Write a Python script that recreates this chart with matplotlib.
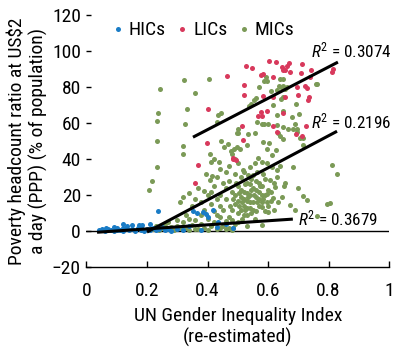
import matplotlib
matplotlib.use("Agg")
import matplotlib.pyplot as plt
import numpy as np

plt.rcParams['font.family'] = ['Roboto Condensed', 'DejaVu Sans']
plt.rcParams['mathtext.fontset'] = 'custom'
plt.rcParams['mathtext.rm'] = 'Roboto Condensed'
plt.rcParams['mathtext.it'] = 'Roboto Condensed:italic'

# HICs (blue)
hic = [(0.04, 0.5), (0.05, 1.0), (0.06, 0.3), (0.07, 1.2), (0.08, 0.6), (0.09, 0.2), (0.10, 1.5),
       (0.10, 0.4), (0.11, 0.8), (0.12, 2.0), (0.12, 0.3), (0.13, 1.1), (0.14, 0.5), (0.15, 3.5),
       (0.15, 1.0), (0.16, 0.2), (0.17, 1.6), (0.18, 0.7), (0.18, 2.4), (0.19, 0.3), (0.20, 1.2),
       (0.21, 3.8), (0.21, 0.5), (0.22, 1.8), (0.23, 0.4), (0.24, 1.0), (0.25, 2.2), (0.26, 0.6),
       (0.27, 1.4), (0.28, 0.3), (0.30, 1.0), (0.32, 0.5), (0.235, 11.1), (0.353, 11.0),
       (0.364, 10.2), (0.395, 9.4), (0.419, 11.7), (0.386, 10.7), (0.403, 7.9), (0.436, 5.2),
       (0.43, 2.4), (0.485, 1.7), (0.38, 0.8), (0.34, 3.0), (0.46, 4.0), (0.09, 2.5), (0.065, 1.8),
       (0.135, 2.8), (0.175, 3.2), (0.12, 3.9), (0.182, 3.7)]
hic_x = [p[0] for p in hic]
hic_y = [p[1] for p in hic]

# LICs (red)
lic = [(0.397, 49.1), (0.370, 36.7), (0.360, 26.8), (0.403, 67.6), (0.465, 86.0), (0.483, 40.4),
       (0.485, 40.2), (0.494, 39.4), (0.516, 50.6), (0.514, 58.3), (0.528, 92.0), (0.546, 90.4),
       (0.604, 94.4), (0.628, 94.0), (0.669, 93.5), (0.663, 91.7), (0.645, 91.0), (0.649, 89.6),
       (0.657, 89.4), (0.711, 92.6), (0.743, 89.8), (0.577, 86.5), (0.616, 85.7), (0.673, 88.5),
       (0.708, 87.6), (0.739, 85.4), (0.521, 81.1), (0.696, 80.2), (0.723, 80.7), (0.730, 79.8),
       (0.522, 75.4), (0.585, 75.0), (0.618, 74.3), (0.656, 74.4), (0.700, 75.9), (0.737, 74.4),
       (0.731, 72.8), (0.577, 66.3), (0.568, 63.9), (0.596, 66.8), (0.618, 58.3), (0.629, 55.2),
       (0.693, 54.1), (0.713, 52.9), (0.726, 58.3), (0.814, 90.0), (0.813, 88.5), (0.585, 87.2),
       (0.651, 65.7), (0.579, 63.9)]
lic_x = [p[0] for p in lic]
lic_y = [p[1] for p in lic]

# MICs (green)
mic = [(0.243, 79), (0.321, 84), (0.405, 84.6), (0.358, 77), (0.236, 65.5), (0.234, 61), (0.332, 67.6),
       (0.434, 64.6), (0.445, 65.4), (0.325, 59.6), (0.431, 60.5), (0.500, 56.8), (0.497, 54.6),
       (0.593, 85.4), (0.588, 83.3), (0.598, 83.3), (0.640, 84.3), (0.651, 84.3), (0.571, 80.2),
       (0.636, 80.7), (0.651, 80.7), (0.662, 80.2), (0.645, 79.3), (0.655, 78.7), (0.609, 77.9),
       (0.629, 78.3), (0.759, 81.8), (0.560, 73.7), (0.554, 72.6), (0.545, 70.9), (0.538, 69.6),
       (0.642, 73.5), (0.651, 74.6), (0.691, 70.4), (0.618, 70.0), (0.649, 66.7), (0.629, 64.4),
       (0.678, 63.5), (0.702, 65.0), (0.565, 60.7), (0.579, 59.3), (0.588, 59.3), (0.601, 59.8),
       (0.629, 58.9), (0.651, 57.6), (0.667, 56.5), (0.684, 56.5), (0.695, 55.2), (0.502, 54.6),
       (0.535, 53.9), (0.557, 54.3), (0.761, 82.0), (0.689, 59.4), (0.697, 56.5), (0.717, 51.5),
       (0.234, 50.2), (0.319, 47.4), (0.319, 42.6), (0.444, 50.2), (0.455, 46.5), (0.469, 48.3),
       (0.477, 44.6), (0.488, 45.7), (0.480, 42.8), (0.408, 42.6), (0.422, 40.0), (0.411, 38.2),
       (0.438, 38.2), (0.441, 34.8), (0.232, 35.7), (0.394, 31.7), (0.415, 30.7), (0.407, 28.3),
       (0.217, 27.8), (0.208, 22.8), (0.388, 22.2), (0.310, 16.3),
       (0.507, 45.9), (0.530, 47.8), (0.497, 46.8), (0.584, 49.6), (0.604, 49.1), (0.626, 45.0),
       (0.612, 42.2), (0.596, 45.9), (0.640, 52.8), (0.634, 54.6), (0.651, 51.0), (0.706, 51.5),
       (0.715, 47.8), (0.684, 35.7), (0.811, 36.7), (0.827, 31.5), (0.656, 26.5), (0.654, 25.0),
       (0.645, 19.1), (0.700, 23.7), (0.715, 19.4), (0.728, 17.2), (0.761, 8.3), (0.796, 15.0),
       (0.805, 15.7),
       (0.540, 35.7), (0.557, 37.6), (0.579, 38.5), (0.596, 37.6), (0.612, 35.7), (0.629, 33.9),
       (0.568, 40.4), (0.518, 33.9), (0.584, 32.0), (0.607, 28.3), (0.623, 24.6), (0.596, 20.9),
       (0.618, 18.2), (0.634, 16.3), (0.579, 13.5), (0.601, 10.7), (0.557, 7.0), (0.579, 3.3),
       (0.530, 2.8), (0.485, 1.5), (0.673, 14.4), (0.689, 11.7),
       (0.45, 12), (0.46, 18), (0.47, 8), (0.48, 22), (0.49, 15), (0.50, 25), (0.50, 10), (0.51, 19),
       (0.51, 30), (0.52, 14), (0.52, 22), (0.53, 17), (0.53, 27), (0.53, 9), (0.54, 20), (0.54, 13),
       (0.55, 24), (0.55, 16), (0.55, 31), (0.56, 19), (0.56, 11), (0.57, 22), (0.57, 27), (0.58, 16),
       (0.58, 25), (0.59, 20), (0.59, 29), (0.60, 23), (0.61, 17), (0.62, 27), (0.47, 28), (0.48, 12),
       (0.49, 20), (0.50, 17), (0.51, 23), (0.52, 18), (0.52, 9), (0.53, 21), (0.54, 26), (0.54, 16),
       (0.55, 12), (0.56, 23), (0.57, 14), (0.58, 20), (0.60, 14), (0.44, 20), (0.43, 9), (0.46, 24),
       (0.49, 32), (0.51, 12), (0.52, 33), (0.53, 13), (0.56, 28), (0.57, 18), (0.59, 11), (0.61, 22),
       (0.63, 30), (0.64, 36), (0.62, 12), (0.50, 5),
       (0.505, 21), (0.515, 16), (0.525, 26), (0.535, 19), (0.545, 23), (0.545, 10), (0.565, 16),
       (0.575, 25), (0.585, 18), (0.495, 27), (0.485, 18), (0.475, 14), (0.535, 31), (0.565, 33),
       (0.515, 7), (0.555, 20), (0.525, 12), (0.505, 14), (0.595, 16), (0.545, 29),
       (0.22, 1), (0.23, 3), (0.24, 0.5), (0.25, 2), (0.26, 4), (0.27, 1), (0.28, 2.5), (0.29, 0.5),
       (0.30, 3), (0.31, 1.5), (0.32, 5), (0.33, 2), (0.34, 0.8), (0.35, 3.5), (0.36, 6), (0.37, 1.2),
       (0.38, 4), (0.39, 2), (0.40, 7), (0.41, 3), (0.42, 5), (0.43, 1), (0.44, 8), (0.45, 3),
       (0.46, 5.5), (0.47, 2), (0.48, 6), (0.49, 4), (0.36, 1), (0.40, 0.5), (0.44, 2), (0.38, 9),
       (0.34, 7), (0.30, 6), (0.42, 11), (0.46, 1), (0.48, 0.8), (0.27, 5), (0.33, 9),
       (0.32, 19), (0.34, 21), (0.35, 14), (0.36, 18), (0.37, 24), (0.38, 16), (0.39, 12), (0.40, 20),
       (0.41, 15), (0.42, 25), (0.43, 18), (0.44, 14), (0.45, 27), (0.46, 33), (0.47, 36), (0.49, 40),
       (0.50, 38), (0.43, 30), (0.41, 22)]
mic_x = [p[0] for p in mic]
mic_y = [p[1] for p in mic]

# fitted lines (endpoints) and R^2 labels
lic_line_x, lic_line_y = [0.352, 0.831], [52.2, 93.9]
mic_line_x, mic_line_y = [0.200, 0.828], [-0.5, 55.5]
hic_line_x, hic_line_y = [0.035, 0.682], [-0.6, 6.7]
r2_labels = ["0.3074", "0.2196", "0.3679"]
r2_pos = [(0.743, 100.5), (0.743, 61.0), (0.700, 7.2)]

c_hic, c_lic, c_mic = '#1a7cc6', '#d8395c', '#7b9a57'

fig = plt.figure(figsize=(3.93, 3.52), dpi=100)
ax = fig.add_axes([0.220, 0.241, 0.770, 0.716])

ax.axhline(0, color='black', lw=1, zorder=1)
ax.scatter(hic_x, hic_y, s=13, color=c_hic, lw=0, label='HICs', zorder=3)
ax.scatter(lic_x, lic_y, s=13, color=c_lic, lw=0, label='LICs', zorder=3)
ax.scatter(mic_x, mic_y, s=13, color=c_mic, lw=0, label='MICs', zorder=2)

for lx, ly in [(lic_line_x, lic_line_y), (mic_line_x, mic_line_y), (hic_line_x, hic_line_y)]:
    ax.plot(lx, ly, color='black', lw=2.2, zorder=4, solid_capstyle='butt')

for lab, (tx, ty) in zip(r2_labels, r2_pos):
    ax.text(tx, ty, "$R^2$ = " + lab, fontsize=12.3, va='center', ha='left', zorder=5)

ax.set_xlim(0, 1)
ax.set_ylim(-20, 120)
ax.set_xticks([0, 0.2, 0.4, 0.6, 0.8, 1])
ax.set_xticklabels(['0', '0.2', '0.4', '0.6', '0.8', '1'])
ax.set_yticks([-20, 0, 20, 40, 60, 80, 100, 120])
ax.set_yticklabels(['\u221220', '0', '20', '40', '60', '80', '100', '120'])

for s in ['top', 'right', 'left']:
    ax.spines[s].set_visible(False)
ax.spines['bottom'].set_linewidth(1)
ax.tick_params(axis='x', direction='in', length=4, width=1, pad=11, labelsize=14)
ax.tick_params(axis='y', direction='in', length=3.5, width=1, pad=4, labelsize=14)

ax.set_xlabel('UN Gender Inequality Index\n(re-estimated)', fontsize=14, linespacing=1.15, labelpad=5)
ax.set_ylabel('Poverty headcount ratio at US\\$2\na day (PPP) (% of population)', fontsize=14,
              linespacing=1.2, labelpad=3)

ax.legend(loc='upper left', bbox_to_anchor=(0.05, 1.025), ncol=3, frameon=False, fontsize=14,
          handlelength=0.5, handletextpad=0.3, columnspacing=0.6, markerscale=1.0, borderaxespad=0.2)

fig.savefig('out.png', dpi=100)
